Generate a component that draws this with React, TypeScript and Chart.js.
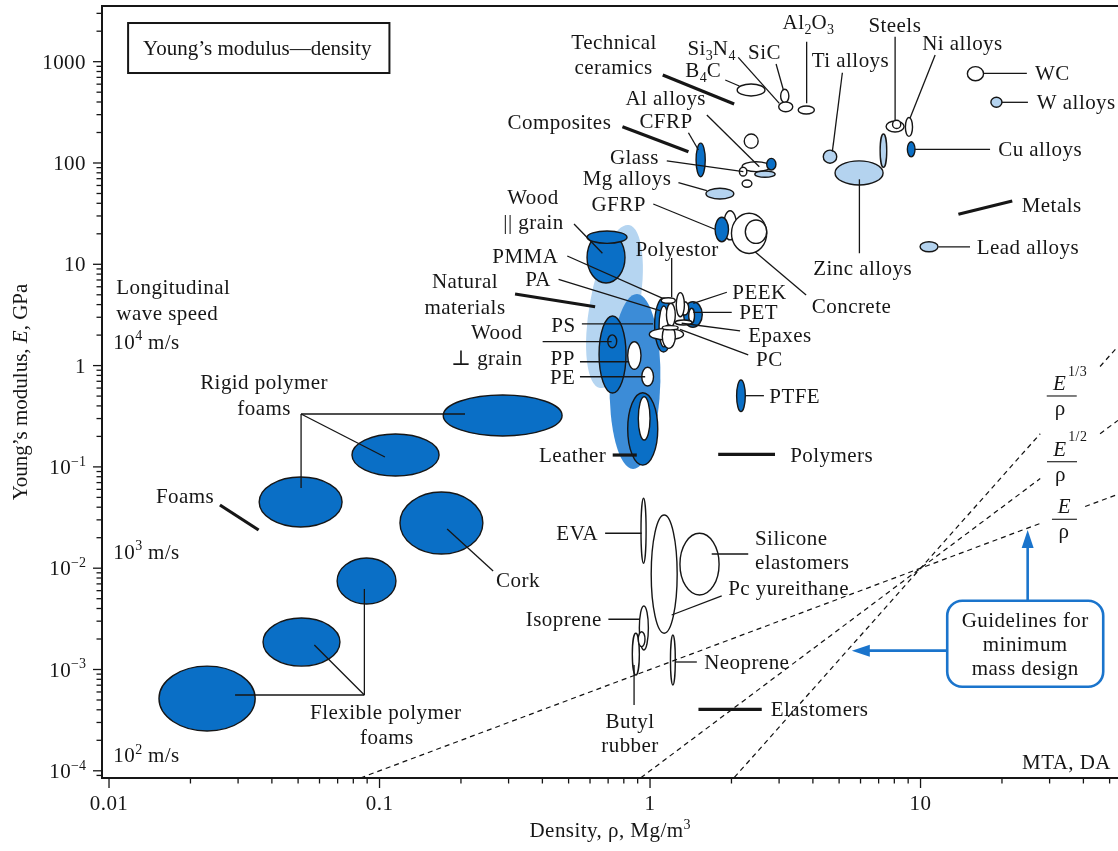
import React, { useEffect, useRef } from 'react';
import { Chart, registerables } from 'chart.js';

Chart.register(...registerables);

// ---------- axis ranges (density Mg/m^3, modulus GPa) ----------
const RHO_MIN = 0.00942;
const RHO_MAX = 53.7;
const E_MIN = 8.49e-5;
const E_MAX = 3546;

const X_TICK_LABELS: [number, string][] = [
  [0.01, '0.01'],
  [0.1, '0.1'],
  [1, '1'],
  [10, '10'],
];
const Y_TICK_LABELS: [number, string][] = [
  [1000, '1000'],
  [100, '100'],
  [10, '10'],
  [1, '1'],
  [0.1, '10^{−1}'],
  [0.01, '10^{−2}'],
  [0.001, '10^{−3}'],
  [0.0001, '10^{−4}'],
];

type Tone = 'dark' | 'light' | 'white';
// [name, rhoLow, rhoHigh, ELow, EHigh, tone]
type Bubble = [string, number, number, number, number, Tone];

// family envelopes: major axis from -> to (rho, E), minor/major ratio
const envelopes: { name: string; from: [number, number]; to: [number, number]; ratio: number; tone: 'pale' | 'mid' }[] = [
  { name: 'Natural materials', from: [0.836, 24.4], to: [0.653, 0.601], ratio: 0.3, tone: 'pale' },
  { name: 'Polymers', from: [0.895, 5.09], to: [0.865, 0.0954], ratio: 0.29, tone: 'mid' },
];

const foams: Bubble[] = [
  ['Rigid polymer foam, high', 0.172, 0.473, 0.202, 0.513, 'dark'],
  ['Rigid polymer foam, mid', 0.0791, 0.166, 0.0813, 0.211, 'dark'],
  ['Rigid polymer foam, low', 0.0359, 0.0727, 0.0255, 0.0795, 'dark'],
  ['Cork', 0.119, 0.241, 0.0138, 0.0565, 'dark'],
  ['Flexible polymer foam, high', 0.0697, 0.115, 0.00443, 0.0126, 'dark'],
  ['Flexible polymer foam, mid', 0.0371, 0.0714, 0.00108, 0.00322, 'dark'],
  ['Flexible polymer foam, low', 0.0153, 0.0347, 0.000247, 0.00108, 'dark'],
];

const naturalAndPolymers: Bubble[] = [
  ['Wood || grain', 0.585, 0.808, 6.54, 20.8, 'dark'],
  ['Wood || grain, cap', 0.585, 0.822, 16.1, 21.3, 'dark'],
  ['PS', 0.648, 0.815, 0.536, 3.09, 'dark'],
  ['Wood ⊥ grain', 0.698, 0.753, 1.5, 2.01, 'dark'],
  ['PP', 0.827, 0.926, 0.919, 1.72, 'white'],
  ['PE', 0.932, 1.03, 0.629, 0.962, 'white'],
  ['Leather', 0.827, 1.068, 0.104, 0.54, 'dark'],
  ['Leather, inner', 0.905, 1.0, 0.184, 0.493, 'white'],
  ['PTFE', 2.09, 2.25, 0.351, 0.721, 'dark'],
  ['PA', 1.04, 1.21, 1.36, 4.65, 'dark'],
  ['PA, inner', 1.08, 1.17, 1.53, 3.88, 'white'],
  ['PET', 1.33, 1.56, 2.39, 4.27, 'dark'],
  ['PET, inner', 1.39, 1.46, 2.62, 3.68, 'white'],
  ['PEEK', 1.3, 1.39, 3.16, 4.27, 'white'],
  ['Polyester, b', 1.25, 1.34, 3.04, 5.25, 'white'],
  ['PMMA', 1.15, 1.24, 2.42, 4.12, 'white'],
  ['Polyester', 1.1, 1.24, 4.12, 4.68, 'white'],
  ['Epoxies', 1.24, 1.43, 2.52, 2.82, 'white'],
  ['PC, wide', 0.994, 1.33, 1.79, 2.33, 'white'],
  ['PC', 1.11, 1.24, 1.48, 2.52, 'white'],
  ['PC, top', 1.11, 1.27, 2.25, 2.48, 'white'],
];

const elastomers: Bubble[] = [
  ['EVA', 0.926, 0.967, 0.0112, 0.049, 'white'],
  ['Polyurethane', 1.01, 1.26, 0.00228, 0.0335, 'white'],
  ['Silicone elastomers', 1.29, 1.8, 0.00544, 0.0221, 'white'],
  ['Butyl rubber', 0.86, 0.913, 0.000882, 0.00228, 'white'],
  ['Isoprene', 0.913, 0.986, 0.00156, 0.00423, 'white'],
  ['Isoprene, inner', 0.905, 0.958, 0.00168, 0.00236, 'white'],
  ['Neoprene', 1.19, 1.24, 0.000703, 0.00219, 'white'],
];

const ceramicsAndComposites: Bubble[] = [
  ['B4C', 2.1, 2.66, 459, 602, 'white'],
  ['SiC', 3.04, 3.26, 394, 534, 'white'],
  ['Si3N4', 2.99, 3.37, 321, 400, 'white'],
  ['Al2O3', 3.53, 4.05, 305, 365, 'white'],
  ['CFRP', 1.48, 1.6, 73.2, 157, 'dark'],
  ['Al alloys', 2.19, 2.78, 82.1, 103, 'white'],
  ['Al alloys, b', 2.44, 2.9, 72.2, 83.4, 'light'],
  ['Al matrix', 2.7, 2.92, 85.3, 111, 'dark'],
  ['Glass', 2.14, 2.28, 74.4, 90.7, 'white'],
  ['Glass ceramic', 2.23, 2.51, 140, 193, 'white'],
  ['Glass, b', 2.19, 2.38, 57.6, 68.0, 'white'],
  ['Mg alloys', 1.61, 2.04, 44.1, 56.3, 'light'],
  ['Concrete, a', 1.87, 2.09, 17.4, 33.8, 'white'],
  ['Concrete', 2.0, 2.7, 12.8, 31.9, 'white'],
  ['Concrete, inner', 2.25, 2.7, 16.1, 27.4, 'white'],
  ['GFRP', 1.74, 1.95, 16.7, 29.1, 'dark'],
];

const metals: Bubble[] = [
  ['Ti alloys', 4.37, 4.9, 99.3, 134, 'light'],
  ['Zinc alloys', 4.83, 7.27, 60.7, 105, 'light'],
  ['Steels, a', 7.09, 7.5, 90.7, 193, 'light'],
  ['Steels', 7.46, 8.69, 202, 260, 'white'],
  ['Steels, inner', 7.88, 8.45, 219, 264, 'white'],
  ['Ni alloys', 8.79, 9.34, 183, 281, 'white'],
  ['Cu alloys', 8.94, 9.54, 115, 162, 'dark'],
  ['WC', 14.9, 17.1, 649, 893, 'white'],
  ['W alloys', 18.2, 20.0, 355, 445, 'light'],
  ['Lead alloys', 9.96, 11.6, 13.3, 16.7, 'light'],
];

// guidelines for minimum mass design: dashed segments [[rho,E],[rho,E]]
const guideEoverRho: [number, number][][] = [
  [[0.085, 8.5e-5], [28.4, 0.0284]],
  [[40.6, 0.0406], [53.7, 0.0537]],
];
const guideE12overRho: [number, number][][] = [
  [[0.925, 8.55e-5], [27.7, 0.0767]],
  [[46.1, 0.2125], [53.7, 0.288]],
];
const guideE13overRho: [number, number][][] = [
  [[2.05, 8.6e-5], [27.7, 0.2125]],
  [[46.1, 0.98], [53.7, 1.55]],
];

// ---------- annotations, in log10 data coordinates ----------
type Align = 'left' | 'center' | 'right';
const labels: [string, number, number, Align][] = [
  ['Technical', -0.133, 3.197, 'center'],
  ['ceramics', -0.135, 2.951, 'center'],
  ['Si_3N_4', 0.227, 3.135, 'center'],
  ['SiC', 0.423, 3.099, 'center'],
  ['Al_2O_3', 0.585, 3.395, 'center'],
  ['B_4C', 0.197, 2.918, 'center'],
  ['Ti alloys', 0.741, 3.017, 'center'],
  ['Steels', 0.905, 3.362, 'center'],
  ['Ni alloys', 1.155, 3.182, 'center'],
  ['WC', 1.423, 2.885, 'left'],
  ['W alloys', 1.43, 2.599, 'left'],
  ['Cu alloys', 1.287, 2.138, 'left'],
  ['Metals', 1.374, 1.585, 'left'],
  ['Lead alloys', 1.208, 1.174, 'left'],
  ['Zinc alloys', 0.786, 0.963, 'center'],
  ['Concrete', 0.598, 0.588, 'left'],
  ['Al alloys', 0.058, 2.639, 'center'],
  ['CFRP', 0.059, 2.418, 'center'],
  ['Composites', -0.335, 2.408, 'center'],
  ['Glass', -0.058, 2.062, 'center'],
  ['Mg alloys', -0.085, 1.849, 'center'],
  ['GFRP', -0.116, 1.595, 'center'],
  ['Wood', -0.433, 1.667, 'center'],
  ['|| grain', -0.431, 1.415, 'center'],
  ['PMMA', -0.461, 1.082, 'center'],
  ['Polyestor', 0.1, 1.151, 'center'],
  ['PA', -0.414, 0.852, 'center'],
  ['Natural', -0.684, 0.838, 'center'],
  ['materials', -0.684, 0.581, 'center'],
  ['PEEK', 0.304, 0.73, 'left'],
  ['PET', 0.33, 0.529, 'left'],
  ['Epaxes', 0.363, 0.302, 'left'],
  ['PS', -0.32, 0.401, 'center'],
  ['Wood', -0.567, 0.335, 'center'],
  ['⊥ grain', -0.603, 0.072, 'center'],
  ['PC', 0.392, 0.062, 'left'],
  ['PP', -0.323, 0.072, 'center'],
  ['PE', -0.323, -0.11, 'center'],
  ['PTFE', 0.441, -0.3, 'left'],
  ['Leather', -0.286, -0.883, 'center'],
  ['Polymers', 0.518, -0.883, 'left'],
  ['Longitudinal', -1.973, 0.779, 'left'],
  ['wave speed', -1.973, 0.516, 'left'],
  ['10^4 m/s', -1.984, 0.236, 'left'],
  ['Rigid polymer', -1.427, -0.159, 'center'],
  ['foams', -1.427, -0.416, 'center'],
  ['Foams', -1.719, -1.284, 'center'],
  ['10^3 m/s', -1.984, -1.837, 'left'],
  ['Cork', -0.488, -2.116, 'center'],
  ['EVA', -0.269, -1.655, 'center'],
  ['Silicone', 0.388, -1.705, 'left'],
  ['elastomers', 0.388, -1.936, 'left'],
  ['Pc yureithane', 0.289, -2.198, 'left'],
  ['Isoprene', -0.319, -2.504, 'center'],
  ['Neoprene', 0.2, -2.926, 'left'],
  ['Elastomers', 0.446, -3.393, 'left'],
  ['Butyl', -0.074, -3.505, 'center'],
  ['rubber', -0.074, -3.745, 'center'],
  ['Flexible polymer', -0.977, -3.423, 'center'],
  ['foams', -0.973, -3.663, 'center'],
  ['10^2 m/s', -1.984, -3.844, 'left'],
  ['MTA, DA', 1.704, -3.91, 'right'],
];

// thin leader lines [lx1, ly1, lx2, ly2]
const leaders: [number, number, number, number][] = [
  [-1.29, -0.478, -0.684, -0.478],
  [-1.29, -0.478, -0.98, -0.902],
  [-1.29, -0.478, -1.29, -1.208],
  [-1.534, -3.252, -1.056, -3.252],
  [-1.056, -3.252, -1.241, -2.758],
  [-1.056, -3.252, -1.056, -2.205],
  [-0.75, -1.613, -0.58, -2.028],
  [0.278, 2.819, 0.33, 2.76],
  [0.326, 3.043, 0.478, 2.589],
  [0.466, 2.977, 0.493, 2.721],
  [0.579, 3.197, 0.579, 2.589],
  [0.711, 2.891, 0.674, 2.112],
  [0.906, 3.247, 0.906, 2.424],
  [1.054, 3.066, 0.961, 2.441],
  [1.232, 2.885, 1.393, 2.885],
  [1.3, 2.599, 1.397, 2.599],
  [0.98, 2.135, 1.257, 2.135],
  [1.066, 1.171, 1.183, 1.171],
  [0.774, 1.839, 0.774, 1.109],
  [0.388, 1.124, 0.577, 0.697],
  [0.21, 2.474, 0.404, 1.963],
  [0.142, 2.299, 0.179, 2.128],
  [0.062, 2.02, 0.345, 1.914],
  [0.105, 1.806, 0.21, 1.727],
  [0.012, 1.595, 0.24, 1.346],
  [-0.281, 1.398, -0.176, 1.109],
  [-0.306, 1.082, 0.047, 0.664],
  [-0.338, 0.852, 0.037, 0.542],
  [0.08, 1.062, 0.08, 0.677],
  [0.284, 0.724, 0.16, 0.615],
  [0.16, 0.526, 0.302, 0.526],
  [0.117, 0.418, 0.333, 0.342],
  [0.111, 0.358, 0.363, 0.105],
  [-0.252, 0.411, 0.011, 0.411],
  [-0.397, 0.236, -0.142, 0.236],
  [-0.259, 0.038, -0.077, 0.038],
  [-0.259, -0.11, -0.018, -0.11],
  [0.351, -0.297, 0.421, -0.297],
  [-0.166, -1.655, -0.031, -1.655],
  [0.08, -2.462, 0.265, -2.274],
  [0.228, -1.86, 0.363, -1.86],
  [-0.154, -2.504, -0.037, -2.504],
  [-0.059, -2.956, -0.059, -3.35],
  [0.092, -2.926, 0.173, -2.926],
];

// thick family markers [lx1, ly1, lx2, ly2]
const familyMarks: [number, number, number, number][] = [
  [0.047, 2.869, 0.311, 2.582],
  [-0.102, 2.358, 0.142, 2.112],
  [1.14, 1.494, 1.339, 1.625],
  [-0.499, 0.707, -0.203, 0.581],
  [-0.138, -0.883, -0.049, -0.883],
  [0.252, -0.876, 0.462, -0.876],
  [-1.59, -1.376, -1.447, -1.623],
  [0.179, -3.393, 0.413, -3.393],
];

// guideline labels: [exponent text, lx, ly of fraction bar]
const guideLabels: [string, number, number][] = [
  ['1/3', 1.522, -0.3],
  ['1/2', 1.523, -0.949],
  ['', 1.532, -1.517],
];

const TITLE_TEXT = 'Young’s modulus—density';
const TITLE_POS: [number, number] = [-1.874, 3.135];
const NOTE_LINES = ['Guidelines for', 'minimum', 'mass design'];
const NOTE_CENTER: [number, number] = [1.387, -2.746];
const ARROW_UP_TIP: [number, number] = [1.396, -1.623];
const ARROW_LEFT_TIP: [number, number] = [0.746, -2.814];

// ---------- styles ----------
const FONT = '"Liberation Serif", "Times New Roman", "DejaVu Serif", serif';
const FS = 21;
const SPACING = '0.45px';
const INK = '#161616';
const TONES: Record<string, string> = {
  dark: '#0a6fc6',
  light: '#b4d3ef',
  white: '#ffffff',
  pale: '#b5d5f1',
  mid: '#3c8cd7',
};
const NOTE_BLUE = '#1a74cc';

type Seg = { t: string; m: 'n' | 'sup' | 'sub' | 'it' };
function parseRich(s: string): Seg[] {
  const segs: Seg[] = [];
  let buf = '';
  let i = 0;
  const flush = () => {
    if (buf) segs.push({ t: buf, m: 'n' });
    buf = '';
  };
  while (i < s.length) {
    const c = s[i];
    if (c === '^' || c === '_') {
      flush();
      let t = '';
      if (s[i + 1] === '{') {
        const j = s.indexOf('}', i + 2);
        t = s.slice(i + 2, j);
        i = j + 1;
      } else {
        t = s[i + 1];
        i += 2;
      }
      segs.push({ t, m: c === '^' ? 'sup' : 'sub' });
    } else if (c === '*') {
      flush();
      const j = s.indexOf('*', i + 1);
      segs.push({ t: s.slice(i + 1, j), m: 'it' });
      i = j + 1;
    } else {
      buf += c;
      i++;
    }
  }
  flush();
  return segs;
}

function setSegFont(ctx: CanvasRenderingContext2D, m: Seg['m'], size: number, spacing: string) {
  const small = m === 'sup' || m === 'sub';
  if (small) ctx.font = `${Math.round(size * 0.66)}px ${FONT}`;
  else if (m === 'it') ctx.font = `italic ${size}px ${FONT}`;
  else ctx.font = `${size}px ${FONT}`;
  (ctx as any).letterSpacing = small ? '0px' : spacing;
}

function richWidth(ctx: CanvasRenderingContext2D, s: string, size = FS, spacing = SPACING) {
  let w = 0;
  ctx.save();
  for (const seg of parseRich(s)) {
    setSegFont(ctx, seg.m, size, spacing);
    w += ctx.measureText(seg.t).width;
  }
  (ctx as any).letterSpacing = '0px';
  ctx.restore();
  return w;
}

function drawRich(
  ctx: CanvasRenderingContext2D,
  s: string,
  x: number,
  y: number,
  align: Align,
  size = FS,
  color = INK,
  spacing = SPACING,
) {
  const segs = parseRich(s);
  const w = richWidth(ctx, s, size, spacing);
  let cx = align === 'left' ? x : align === 'right' ? x - w : x - w / 2;
  const base = y + size * 0.34;
  ctx.save();
  ctx.fillStyle = color;
  ctx.textAlign = 'left';
  ctx.textBaseline = 'alphabetic';
  for (const seg of segs) {
    setSegFont(ctx, seg.m, size, spacing);
    const dy = seg.m === 'sup' ? -size * 0.4 : seg.m === 'sub' ? size * 0.24 : 0;
    ctx.fillText(seg.t, cx, base + dy);
    cx += ctx.measureText(seg.t).width;
  }
  (ctx as any).letterSpacing = '0px';
  ctx.restore();
  return w;
}

function minorTicks(lo: number, hi: number) {
  const out: { value: number; major: boolean }[] = [];
  for (let e = Math.floor(Math.log10(lo)) - 1; e <= Math.ceil(Math.log10(hi)); e++) {
    for (let m = 1; m <= 9; m++) {
      const v = m * Math.pow(10, e);
      if (v >= lo * 0.9999 && v <= hi * 1.0001) out.push({ value: v, major: m === 1 });
    }
  }
  return out;
}

const ashbyPlugin = {
  id: 'ashby',
  beforeDraw(chart: any) {
    const ctx = chart.ctx as CanvasRenderingContext2D;
    ctx.save();
    ctx.fillStyle = '#ffffff';
    ctx.fillRect(0, 0, chart.width, chart.height);
    ctx.restore();
  },
  beforeDatasetsDraw(chart: any) {
    const ctx = chart.ctx as CanvasRenderingContext2D;
    const xs = chart.scales.x;
    const ys = chart.scales.y;
    const a = chart.chartArea;
    ctx.save();
    ctx.beginPath();
    ctx.rect(a.left, a.top, a.right - a.left, a.bottom - a.top);
    ctx.clip();

    for (const env of envelopes) {
      const x1 = xs.getPixelForValue(env.from[0]);
      const y1 = ys.getPixelForValue(env.from[1]);
      const x2 = xs.getPixelForValue(env.to[0]);
      const y2 = ys.getPixelForValue(env.to[1]);
      const len = Math.hypot(x2 - x1, y2 - y1) / 2;
      const ang = Math.atan2(y2 - y1, x2 - x1);
      ctx.beginPath();
      ctx.ellipse((x1 + x2) / 2, (y1 + y2) / 2, len, len * env.ratio, ang, 0, Math.PI * 2);
      ctx.fillStyle = TONES[env.tone];
      ctx.fill();
    }

    const groups = [foams, naturalAndPolymers, elastomers, ceramicsAndComposites, metals];
    ctx.lineWidth = 1.4;
    ctx.strokeStyle = INK;
    for (const g of groups) {
      for (const b of g) {
        const x0 = xs.getPixelForValue(b[1]);
        const x1 = xs.getPixelForValue(b[2]);
        const y0 = ys.getPixelForValue(b[3]);
        const y1 = ys.getPixelForValue(b[4]);
        ctx.beginPath();
        ctx.ellipse((x0 + x1) / 2, (y0 + y1) / 2, Math.abs(x1 - x0) / 2, Math.abs(y1 - y0) / 2, 0, 0, Math.PI * 2);
        ctx.fillStyle = TONES[b[5]];
        ctx.fill();
        ctx.stroke();
      }
    }
    ctx.restore();
  },
  afterDatasetsDraw(chart: any) {
    const ctx = chart.ctx as CanvasRenderingContext2D;
    const xs = chart.scales.x;
    const ys = chart.scales.y;
    const a = chart.chartArea;
    const px = (lx: number) => xs.getPixelForValue(Math.pow(10, lx));
    const py = (ly: number) => ys.getPixelForValue(Math.pow(10, ly));

    ctx.save();
    ctx.strokeStyle = INK;
    ctx.lineCap = 'butt';
    ctx.lineWidth = 1.3;
    for (const l of leaders) {
      ctx.beginPath();
      ctx.moveTo(px(l[0]), py(l[1]));
      ctx.lineTo(px(l[2]), py(l[3]));
      ctx.stroke();
    }
    ctx.lineWidth = 3.2;
    for (const l of familyMarks) {
      ctx.beginPath();
      ctx.moveTo(px(l[0]), py(l[1]));
      ctx.lineTo(px(l[2]), py(l[3]));
      ctx.stroke();
    }
    ctx.restore();

    for (const [t, lx, ly, al] of labels) drawRich(ctx, t, px(lx), py(ly), al);

    // title box
    {
      const tx = px(TITLE_POS[0]);
      const ty = py(TITLE_POS[1]);
      const w = drawRich(ctx, TITLE_TEXT, tx, ty, 'left', FS, INK, '0px');
      ctx.save();
      ctx.strokeStyle = INK;
      ctx.lineWidth = 2;
      ctx.strokeRect(tx - 15, ty - 25, w + 33, 50);
      ctx.restore();
    }

    // guideline fraction labels
    for (const [sup, lx, ly] of guideLabels) {
      const cx = px(lx);
      const by = py(ly);
      ctx.save();
      ctx.strokeStyle = INK;
      ctx.lineWidth = 1.1;
      const half = sup ? 15 : 12.5;
      ctx.beginPath();
      ctx.moveTo(cx - half, by);
      ctx.lineTo(cx + half, by);
      ctx.stroke();
      ctx.restore();
      const ex = sup ? cx - 2 : cx;
      const ew = drawRich(ctx, '*E*', ex, by - 13, 'center');
      if (sup) drawRich(ctx, sup, ex + ew / 2 + 1.5, by - 25, 'left', 14);
      drawRich(ctx, 'ρ', cx - (sup ? 1.5 : 0.5), by + 12, 'center');
    }

    // guidelines note box and arrows
    {
      const cx = px(NOTE_CENTER[0]);
      const cy = py(NOTE_CENTER[1]);
      const bw = 156;
      const bh = 86;
      const left = cx - bw / 2;
      const top = cy - bh / 2;
      ctx.save();
      ctx.strokeStyle = NOTE_BLUE;
      ctx.fillStyle = NOTE_BLUE;
      ctx.lineWidth = 2.6;
      const ux = px(ARROW_UP_TIP[0]);
      const uy = py(ARROW_UP_TIP[1]);
      ctx.beginPath();
      ctx.moveTo(ux, top);
      ctx.lineTo(ux, uy + 14);
      ctx.stroke();
      ctx.beginPath();
      ctx.moveTo(ux, uy);
      ctx.lineTo(ux - 6, uy + 18);
      ctx.lineTo(ux + 6, uy + 18);
      ctx.closePath();
      ctx.fill();
      const lx = px(ARROW_LEFT_TIP[0]);
      const ly = py(ARROW_LEFT_TIP[1]);
      ctx.beginPath();
      ctx.moveTo(left, ly);
      ctx.lineTo(lx + 14, ly);
      ctx.stroke();
      ctx.beginPath();
      ctx.moveTo(lx, ly);
      ctx.lineTo(lx + 18, ly - 6);
      ctx.lineTo(lx + 18, ly + 6);
      ctx.closePath();
      ctx.fill();
      ctx.beginPath();
      ctx.roundRect(left, top, bw, bh, 15);
      ctx.fillStyle = '#ffffff';
      ctx.fill();
      ctx.stroke();
      ctx.restore();
      NOTE_LINES.forEach((t, i) => drawRich(ctx, t, cx, cy - 24 + i * 24.2, 'center'));
    }

    // axes frame
    ctx.save();
    ctx.strokeStyle = INK;
    ctx.lineWidth = 2;
    ctx.beginPath();
    ctx.moveTo(a.left, a.top);
    ctx.lineTo(a.right + 2, a.top);
    ctx.moveTo(a.left, a.top - 1);
    ctx.lineTo(a.left, a.bottom + 1);
    ctx.moveTo(a.left - 1, a.bottom);
    ctx.lineTo(a.right + 2, a.bottom);
    ctx.stroke();

    ctx.lineWidth = 1.3;
    for (const t of xs.ticks) {
      const x = xs.getPixelForValue(t.value);
      if (x < a.left - 0.5 || x > a.right + 0.5) continue;
      ctx.beginPath();
      ctx.moveTo(x, a.bottom);
      ctx.lineTo(x, a.bottom + (t.major ? 10 : 5.5));
      ctx.stroke();
    }
    for (const t of ys.ticks) {
      const y = ys.getPixelForValue(t.value);
      if (y < a.top - 0.5 || y > a.bottom + 0.5) continue;
      ctx.beginPath();
      ctx.moveTo(a.left, y);
      ctx.lineTo(a.left - (t.major ? 9 : 5.5), y);
      ctx.stroke();
    }
    ctx.restore();

    for (const [v, t] of X_TICK_LABELS) drawRich(ctx, t, xs.getPixelForValue(v), a.bottom + 25, 'center');
    for (const [v, t] of Y_TICK_LABELS) drawRich(ctx, t, a.left - 16, ys.getPixelForValue(v), 'right');

    drawRich(ctx, 'Density, ρ, Mg/m^3', (a.left + a.right) / 2, a.bottom + 52, 'center');
    ctx.save();
    ctx.translate(20, (a.top + a.bottom) / 2);
    ctx.rotate(-Math.PI / 2);
    drawRich(ctx, 'Young’s modulus, *E*, GPa', 0, 0, 'center', FS, INK, '0px');
    ctx.restore();
  },
};

function toPoints(seg: [number, number][]) {
  return seg.map(([x, y]) => ({ x, y }));
}

export default function App() {
  const ref = useRef<HTMLCanvasElement>(null);
  useEffect(() => {
    if (!ref.current) return;
    const guideSegs = [...guideEoverRho, ...guideE12overRho, ...guideE13overRho];
    const chart = new Chart(ref.current, {
      type: 'scatter',
      data: {
        datasets: guideSegs.map((s, i) => ({
          label: `guideline ${i}`,
          data: toPoints(s),
          showLine: true,
          pointRadius: 0,
          borderColor: '#111111',
          borderWidth: 1.2,
          borderDash: [5, 4],
          fill: false,
        })),
      },
      options: {
        animation: false,
        responsive: false,
        maintainAspectRatio: false,
        events: [],
        layout: { padding: { top: 6, left: 0, right: 0, bottom: 0 } },
        plugins: { legend: { display: false }, tooltip: { enabled: false }, title: { display: false } },
        scales: {
          x: {
            type: 'logarithmic',
            min: RHO_MIN,
            max: RHO_MAX,
            grid: { display: false },
            border: { display: false },
            ticks: { display: false },
            afterBuildTicks: (s: any) => {
              s.ticks = minorTicks(RHO_MIN, RHO_MAX);
            },
            afterFit: (s: any) => {
              s.height = 73;
            },
          },
          y: {
            type: 'logarithmic',
            min: E_MIN,
            max: E_MAX,
            grid: { display: false },
            border: { display: false },
            ticks: { display: false },
            afterBuildTicks: (s: any) => {
              s.ticks = minorTicks(E_MIN, E_MAX);
            },
            afterFit: (s: any) => {
              s.width = 102;
            },
          },
        },
      } as any,
      plugins: [ashbyPlugin as any],
    });
    return () => chart.destroy();
  }, []);
  return (
    <div style={{ position: 'fixed', left: 0, top: 0, width: 1118, height: 851, background: '#fff' }}>
      <canvas ref={ref} width={1118} height={851} style={{ display: 'block' }} />
    </div>
  );
}
